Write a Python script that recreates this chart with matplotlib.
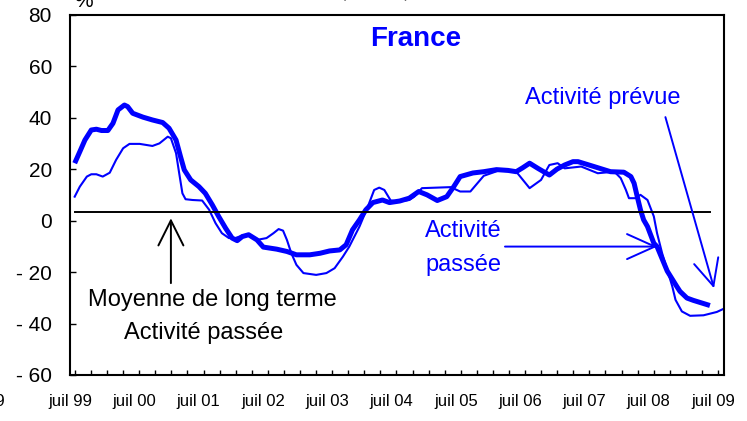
import numpy as np
import matplotlib
matplotlib.use("Agg")
import matplotlib.pyplot as plt

plt.rcParams['font.family'] = ['Liberation Sans', 'DejaVu Sans']

# dates en années décimales (juillet = année + 0.5)
past_x = [1999.573, 1999.653, 1999.732, 1999.831, 1999.910, 1999.990, 2000.089, 2000.168,
          2000.247, 2000.346, 2000.396, 2000.475, 2000.634, 2000.782, 2000.941, 2001.040,
          2001.149, 2001.218, 2001.277, 2001.377, 2001.505, 2001.604, 2001.713, 2001.812,
          2001.921, 2002.021, 2002.100, 2002.179, 2002.278, 2002.407, 2002.506, 2002.714,
          2002.873, 2003.021, 2003.229, 2003.388, 2003.536, 2003.695, 2003.794, 2003.893,
          2004.002, 2004.101, 2004.210, 2004.359, 2004.468, 2004.626, 2004.775, 2004.923,
          2005.052, 2005.211, 2005.359, 2005.468, 2005.567, 2005.765, 2005.934, 2006.132,
          2006.310, 2006.439, 2006.538, 2006.647, 2006.776, 2006.954, 2007.073, 2007.192,
          2007.321, 2007.400, 2007.648, 2007.905, 2008.113, 2008.222, 2008.272, 2008.321,
          2008.371, 2008.420, 2008.480, 2008.579, 2008.629, 2008.787, 2008.936, 2008.985,
          2009.094, 2009.193, 2009.451]
past_v = [22.3, 26.8, 31.3, 35.2, 35.5, 35.0, 35.0, 37.8,
          43.0, 44.9, 44.3, 41.7, 40.2, 39.1, 38.1, 35.9,
          31.3, 24.9, 19.7, 15.8, 13.2, 10.6, 6.1, 1.6,
          -3.0, -6.8, -7.8, -6.2, -5.5, -7.5, -10.3, -11.1,
          -12.0, -13.3, -13.3, -12.7, -11.8, -11.4, -9.4, -3.6,
          0.3, 4.2, 7.0, 8.0, 7.0, 7.6, 8.7, 11.3,
          10.0, 7.8, 9.3, 13.2, 17.1, 18.5, 19.0, 19.8,
          19.5, 19.0, 20.5, 22.3, 20.3, 17.7, 20.0, 21.6,
          22.9, 22.9, 21.0, 19.0, 18.8, 17.1, 14.5, 9.3,
          4.2, 0.3, -2.3, -8.8, -10.1, -19.6, -25.6, -27.5,
          -30.1, -31.0, -33.0]

forecast_x = [1999.573, 1999.653, 1999.762, 1999.831, 1999.910, 2000.009, 2000.118, 2000.217,
              2000.326, 2000.425, 2000.584, 2000.782, 2000.891, 2001.020, 2001.069, 2001.149,
              2001.198, 2001.248, 2001.297, 2001.406, 2001.555, 2001.664, 2001.763, 2001.862,
              2001.971, 2002.070, 2002.179, 2002.308, 2002.407, 2002.556, 2002.664, 2002.744,
              2002.813, 2002.873, 2002.942, 2003.021, 2003.130, 2003.328, 2003.487, 2003.615,
              2003.744, 2003.843, 2004.002, 2004.131, 2004.230, 2004.309, 2004.388, 2004.487,
              2004.616, 2004.775, 2004.854, 2004.973, 2005.419, 2005.567, 2005.726, 2005.934,
              2006.162, 2006.439, 2006.647, 2006.825, 2006.954, 2007.083, 2007.192, 2007.449,
              2007.707, 2007.965, 2008.064, 2008.143, 2008.192, 2008.292, 2008.371, 2008.480,
              2008.579, 2008.629, 2008.708, 2008.787, 2008.866, 2008.916, 2009.015, 2009.143,
              2009.351, 2009.559, 2009.688]
forecast_v = [9.3, 13.2, 17.1, 18.0, 18.0, 17.1, 18.6, 23.6,
              28.1, 29.8, 29.8, 29.0, 30.0, 32.6, 32.0, 26.2,
              18.4, 10.6, 8.3, 8.0, 7.8, 4.2, -1.0, -4.9,
              -6.8, -6.8, -5.8, -5.6, -7.5, -6.8, -4.9, -3.3,
              -3.9, -7.5, -12.7, -17.2, -20.4, -21.1, -20.4, -18.5,
              -14.0, -10.1, -2.3, 5.4, 11.9, 12.8, 11.9, 7.8,
              7.4, 8.0, 9.3, 12.6, 13.0, 11.3, 11.3, 17.4,
              19.4, 19.0, 12.6, 15.8, 21.6, 22.3, 20.3, 21.0,
              18.4, 19.0, 16.5, 12.0, 8.7, 8.7, 10.0, 8.0,
              1.6, -4.9, -12.7, -19.1, -25.6, -30.8, -35.3, -37.0,
              -36.8, -35.5, -34.0]

mean_x = [1999.577, 2009.454]
mean_v = [3.4, 3.4]

year_labels = ['juil 99', 'juil 00', 'juil 01', 'juil 02', 'juil 03', 'juil 04',
               'juil 05', 'juil 06', 'juil 07', 'juil 08', 'juil 09']
y_values = [-60, -40, -20, 0, 20, 40, 60, 80]
y_labels = ['- 60', '- 40', '- 20', '0', '20', '40', '60', '80']

blue = '#0000FF'

fig = plt.figure(figsize=(7.47, 4.21), dpi=100)
ax = fig.add_axes([70 / 747, 46 / 421, 654 / 747, 360.3 / 421])

ax.plot(forecast_x, forecast_v, color=blue, lw=1.5, solid_joinstyle='round')
ax.plot(past_x, past_v, color=blue, lw=3.6, solid_joinstyle='round', solid_capstyle='butt')
ax.plot(mean_x, mean_v, color='black', lw=1.4)

x0, x1 = 1999.577, 2009.67
ax.set_xlim(x0, x1)
ax.set_ylim(-60, 80)

ax.set_xticks([1999.5 + i for i in range(len(year_labels))])
ax.set_xticklabels(year_labels, fontsize=12)
ax.set_xticks(np.arange(x0, x1, 0.25), minor=True)
ax.tick_params(axis='x', which='major', length=0, pad=14)
ax.tick_params(axis='x', which='minor', direction='in', length=3.6, width=1)

ax.set_yticks(y_values)
ax.set_yticklabels(y_labels, fontsize=15)
ax.tick_params(axis='y', direction='in', length=4.5, width=1, pad=13)

for s in ax.spines.values():
    s.set_linewidth(1.5)

ax.text(2004.87, 70.6, 'France', color=blue, fontsize=20, fontweight='bold',
        ha='center', va='center')

# flèche noire : moyenne de long terme
ax.annotate('', xy=(2001.069, 0.9), xytext=(2001.069, -24.3),
            arrowprops=dict(arrowstyle='->,head_length=0.9,head_width=0.45',
                            color='black', lw=1.4, mutation_scale=20,
                            shrinkA=0, shrinkB=0))
ax.text(2001.707, -30.8, 'Moyenne de long terme', fontsize=17, ha='center', va='center')
ax.text(2001.583, -43.6, 'Activité passée', fontsize=17, ha='center', va='center')

# activité passée
ax.text(2005.025, -4.0, 'Activité', color=blue, fontsize=17, ha='left', va='center')
ax.text(2005.025, -17.2, 'passée', color=blue, fontsize=17, ha='left', va='center')
ax.annotate('', xy=(2008.631, -10.1), xytext=(2006.264, -10.1),
            arrowprops=dict(arrowstyle='->,head_length=1.0,head_width=0.45',
                            color=blue, lw=1.4, mutation_scale=20,
                            shrinkA=0, shrinkB=0))

# activité prévue
ax.text(2006.568, 47.6, 'Activité prévue', color=blue, fontsize=17, ha='left', va='center')
ax.annotate('', xy=(2009.515, -26.3), xytext=(2008.759, 40.2),
            arrowprops=dict(arrowstyle='->,head_length=0.95,head_width=0.45',
                            color=blue, lw=1.4, mutation_scale=20,
                            shrinkA=0, shrinkB=0))

# morceaux coupés du graphique voisin
fig.text(74 / 747, 1 - 7 / 421, '%', fontsize=15, ha='left', va='baseline')
fig.text(375 / 747, 1 + 2 / 421, '(solde, %)', fontsize=11, color='#666666',
         ha='center', va='baseline')
fig.text(5 / 747, 1 - 401 / 421, '99', fontsize=12, ha='right', va='center')

fig.savefig('out.png', dpi=100)
